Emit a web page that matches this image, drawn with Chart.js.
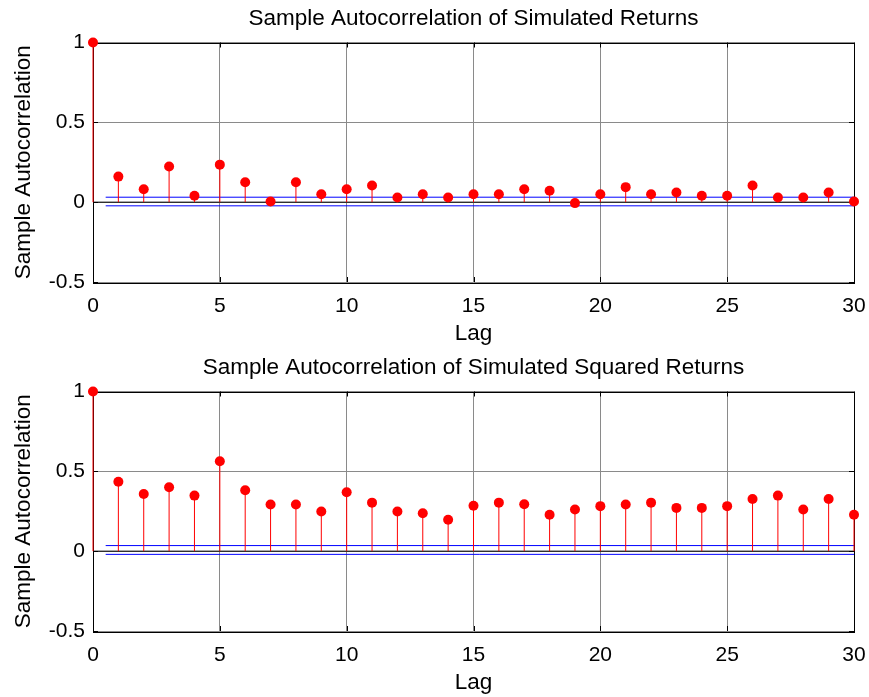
<!DOCTYPE html>
<html>
<head>
<meta charset="utf-8">
<script src="https://cdn.jsdelivr.net/npm/chart.js@4.4.0/dist/chart.umd.min.js"></script>
<style>
body { margin: 0; background: #fff; }
.box { position: absolute; left: 0; width: 869px; height: 348px; }
</style>
</head>
<body>
<div class="box" style="top:0px"><canvas id="acfReturns"></canvas></div>
<div class="box" style="top:349px"><canvas id="acfSquared"></canvas></div>
<script>
// values
var lags = [0,1,2,3,4,5,6,7,8,9,10,11,12,13,14,15,16,17,18,19,20,21,22,23,24,25,26,27,28,29,30];
var acfReturns = [1, 0.16, 0.081, 0.223, 0.04, 0.235, 0.125, 0.004, 0.125, 0.05, 0.081,
                  0.104, 0.029, 0.05, 0.029, 0.05, 0.05, 0.081, 0.071, -0.006, 0.05,
                  0.094, 0.05, 0.06, 0.04, 0.04, 0.104, 0.029, 0.029, 0.06, 0.004];
var acfSquared = [1, 0.435, 0.358, 0.40, 0.348, 0.563, 0.381, 0.292, 0.292, 0.248, 0.369,
                  0.304, 0.248, 0.238, 0.197, 0.284, 0.304, 0.294, 0.228, 0.261, 0.282,
                  0.292, 0.304, 0.271, 0.271, 0.282, 0.327, 0.348, 0.261, 0.327, 0.228];
var boundsReturns = [0.031, -0.023];
var boundsSquared = [0.035, -0.02];
var boundStart = 0.5;
var xTicks = [0, 5, 10, 15, 20, 25, 30];
var yTicks = [-0.5, 0, 0.5, 1];

var fontFamily = '"Liberation Sans", Arial, sans-serif';

// box + inward tick marks like the matlab axes
var framePlugin = {
    id: 'frame',
    beforeDatasetsDraw: function(chart) {
        var ctx = chart.ctx;
        var a = chart.chartArea;
        var xs = chart.scales.x, ys = chart.scales.y;
        ctx.save();
        ctx.strokeStyle = '#000';
        ctx.lineWidth = 1;
        ctx.strokeRect(Math.round(a.left) + 0.5, Math.round(a.top) + 0.5,
                       Math.round(a.right - a.left), Math.round(a.bottom - a.top));
        ctx.beginPath();
        for (var i in xTicks) {
            var px = Math.round(xs.getPixelForValue(xTicks[i])) + 0.5;
            ctx.moveTo(px, a.top); ctx.lineTo(px, a.top + 5);
            ctx.moveTo(px, a.bottom); ctx.lineTo(px, a.bottom - 5);
        }
        for (var j in yTicks) {
            var py = Math.round(ys.getPixelForValue(yTicks[j])) + 0.5;
            ctx.moveTo(a.left, py); ctx.lineTo(a.left + 5, py);
            ctx.moveTo(a.right, py); ctx.lineTo(a.right - 5, py);
        }
        ctx.stroke();
        ctx.restore();
    }
};

function makeAcfChart(canvasId, titleText, values, bounds)
{
    var points = [];
    var stems = [];
    for (var i in lags) {
        points.push({x: lags[i], y: values[i]});
        stems.push({x: lags[i], y: 0});
        stems.push({x: lags[i], y: values[i]});
        stems.push({x: lags[i], y: null});
    }
    var last = lags[lags.length - 1];

    var ctx = document.getElementById(canvasId).getContext('2d');
    return new Chart(ctx, {
        type: 'scatter',
        data: {
            datasets: [
                { data: points, pointRadius: 5, pointBackgroundColor: '#ff0000',
                  pointBorderWidth: 0, showLine: false, clip: false },
                { data: stems, showLine: true, borderColor: '#ff0000', borderWidth: 1,
                  pointRadius: 0, spanGaps: false, clip: false },
                { data: [{x: boundStart, y: bounds[0]}, {x: last, y: bounds[0]}],
                  showLine: true, borderColor: '#0000ff', borderWidth: 1, pointRadius: 0 },
                { data: [{x: boundStart, y: bounds[1]}, {x: last, y: bounds[1]}],
                  showLine: true, borderColor: '#0000ff', borderWidth: 1, pointRadius: 0 },
                { data: [{x: 0, y: 0}, {x: last, y: 0}],
                  showLine: true, borderColor: '#000000', borderWidth: 1, pointRadius: 0 }
            ]
        },
        options: {
            responsive: true,
            maintainAspectRatio: false,
            animation: false,
            layout: { padding: { left: 0, right: 15, top: 0, bottom: 0 } },
            plugins: {
                legend: { display: false },
                tooltip: { enabled: false },
                title: {
                    display: true,
                    fullSize: false,
                    text: titleText,
                    color: '#000',
                    font: { family: fontFamily, size: 22.5, weight: 'normal' },
                    padding: { top: 5, bottom: 10.5 }
                }
            },
            scales: {
                x: {
                    type: 'linear',
                    min: 0, max: 30,
                    afterBuildTicks: function(scale) {
                        scale.ticks = xTicks.map(function(v) { return {value: v}; });
                    },
                    afterFit: function(scale) {
                        scale.height = 66;
                        scale.paddingLeft = 0;
                        scale.paddingRight = 0;
                    },
                    grid: { color: '#8a8a8a', drawTicks: false },
                    border: { display: false },
                    ticks: { color: '#000', padding: 12, maxRotation: 0,
                             font: { family: fontFamily, size: 21 } },
                    title: { display: true, text: 'Lag', color: '#000',
                             font: { family: fontFamily, size: 22.5 },
                             padding: { top: 0, bottom: 1 } }
                },
                y: {
                    min: -0.5, max: 1,
                    afterBuildTicks: function(scale) {
                        scale.ticks = yTicks.map(function(v) { return {value: v}; });
                    },
                    afterFit: function(scale) {
                        scale.width = 93;
                        scale.paddingTop = 0;
                        scale.paddingBottom = 0;
                    },
                    grid: { color: '#8a8a8a', drawTicks: false },
                    border: { display: false },
                    ticks: { color: '#000', padding: 8,
                             font: { family: fontFamily, size: 21 },
                             callback: function(v) { return String(v); } },
                    title: { display: true, text: 'Sample Autocorrelation', color: '#000',
                             font: { family: fontFamily, size: 22.5 },
                             padding: { top: 10, bottom: 0 } }
                }
            }
        },
        plugins: [framePlugin]
    });
}

makeAcfChart('acfReturns', 'Sample Autocorrelation of Simulated Returns', acfReturns, boundsReturns);
makeAcfChart('acfSquared', 'Sample Autocorrelation of Simulated Squared Returns', acfSquared, boundsSquared);
</script>
</body>
</html>
